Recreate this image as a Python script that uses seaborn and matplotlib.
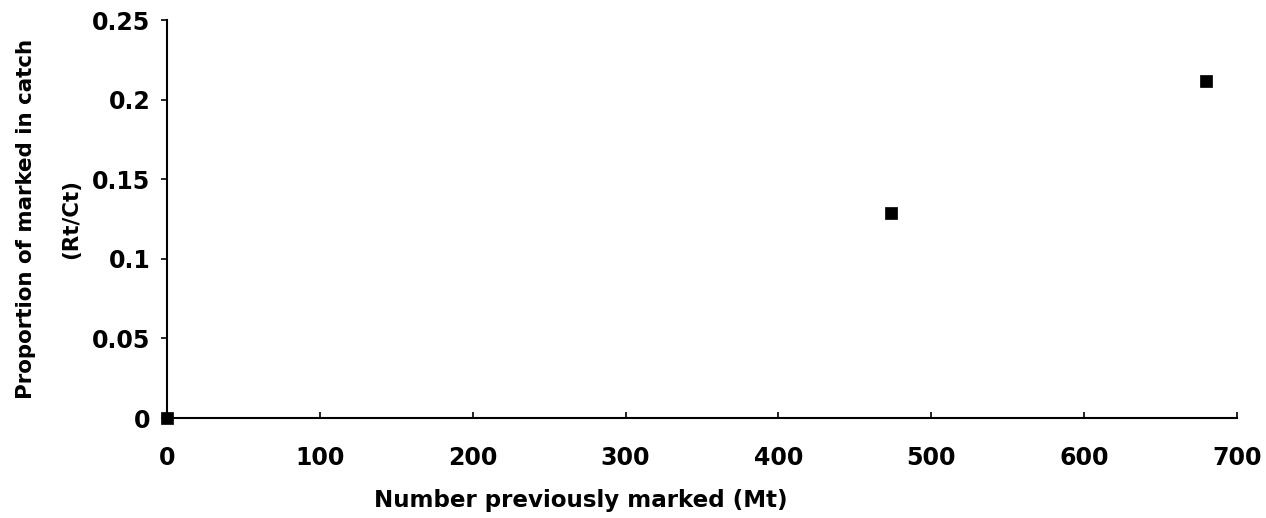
import matplotlib
matplotlib.use("Agg")
import matplotlib.pyplot as plt
import seaborn as sns
import pandas as pd

# values
marked_prev = [0, 474, 680]
prop_marked = [0.0, 0.129, 0.212]

x_ticks = [0, 100, 200, 300, 400, 500, 600, 700]
y_ticks = [0, 0.05, 0.1, 0.15, 0.2, 0.25]
y_tick_labels = ["0", "0.05", "0.1", "0.15", "0.2", "0.25"]

sns.set_style("ticks")
plt.rcParams["font.family"] = ["DejaVu Sans"]
plt.rcParams["text.color"] = "black"
plt.rcParams["axes.labelcolor"] = "black"
plt.rcParams["xtick.color"] = "black"
plt.rcParams["ytick.color"] = "black"

df = pd.DataFrame({"Mt": marked_prev, "ratio": prop_marked})

fig = plt.figure(figsize=(12.66, 5.18), dpi=100)
ax = fig.add_axes([0.132, 0.193, 0.845, 0.768])

sns.scatterplot(data=df, x="Mt", y="ratio", marker="s", s=70, color="black",
                edgecolor="black", linewidth=0.5, ax=ax, clip_on=False, zorder=5)

ax.set_xlim(0, 700)
ax.set_ylim(0, 0.25)
ax.set_xticks(x_ticks)
ax.set_yticks(y_ticks)
ax.set_yticklabels(y_tick_labels)
ax.tick_params(axis="both", labelsize=17, width=1.2, length=4,
               color="black", labelcolor="black")
ax.tick_params(axis="x", direction="in", pad=20)
ax.tick_params(axis="y", direction="out", pad=8)
for lab in ax.get_xticklabels() + ax.get_yticklabels():
    lab.set_fontweight("bold")

sns.despine(ax=ax)
for sp in ["left", "bottom"]:
    ax.spines[sp].set_linewidth(1.5)
    ax.spines[sp].set_color("black")

ax.set_xlabel("Number previously marked (Mt)", fontsize=16.6, fontweight="bold",
              color="black")
ax.xaxis.set_label_coords(0.387, -0.178)
ax.set_ylabel("Proportion of marked in catch\n(Rt/Ct)", fontsize=15.4, fontweight="bold",
              linespacing=2.6, color="black")
ax.yaxis.set_label_coords(-0.08, 0.5)

fig.savefig("out.png", dpi=100)
